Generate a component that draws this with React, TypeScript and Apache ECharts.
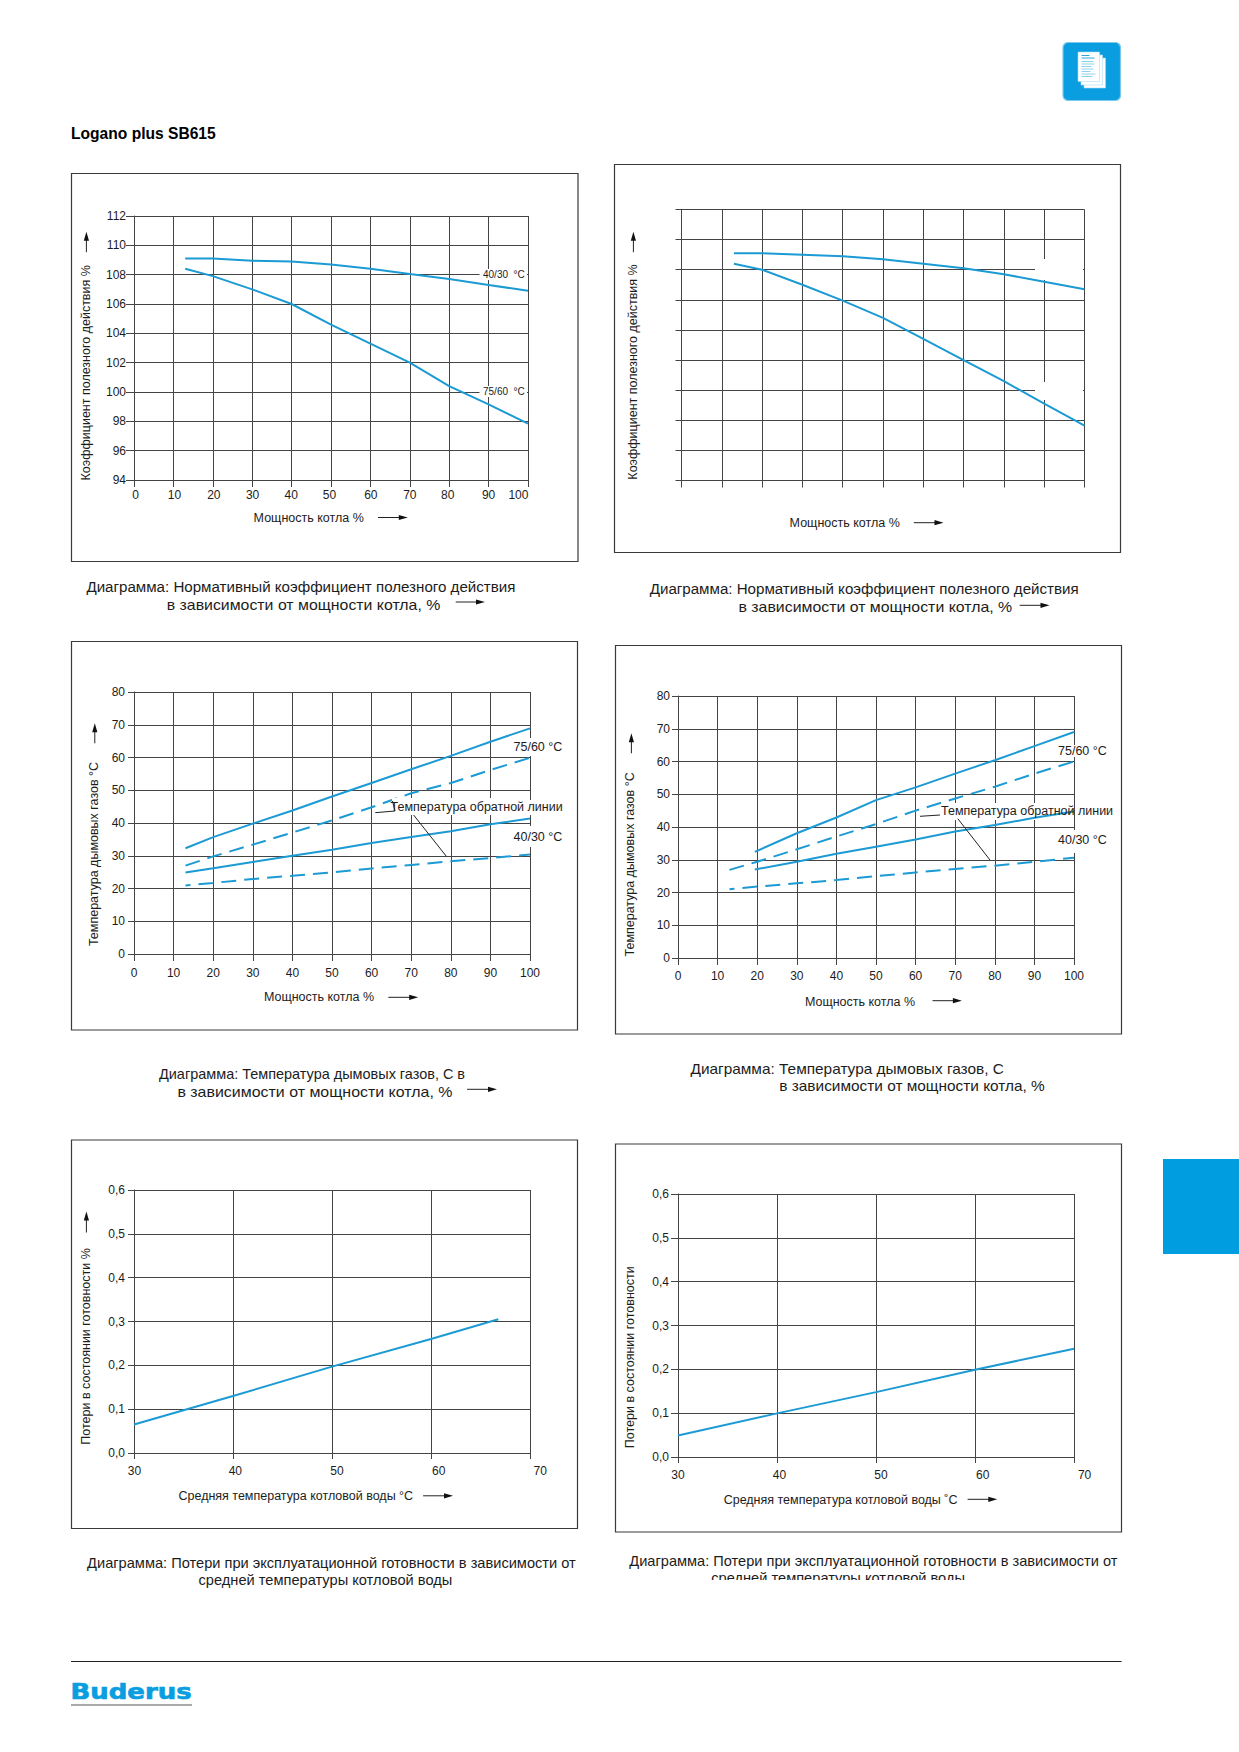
import React, { useEffect, useRef } from "react";
import * as echarts from "echarts";

const FONT = '"Liberation Sans", Arial, sans-serif';
const BLUE = "#1b9ad4";
const GRID = "#444444";
const TXT = "#1c1c1c";

// ---------- data ----------
const LOAD_TICKS_X = [13, 20, 30, 40, 50, 60, 70, 80, 90, 100];
const LOAD_TICKS_X_LATE = [19.4, 30, 40, 50, 60, 70, 80, 90, 100];

const EFF_A_4030 = [109.1, 109.1, 108.95, 108.9, 108.7, 108.4, 108.05, 107.7, 107.3, 106.9];
const EFF_A_7560 = [108.4, 107.9, 107.0, 106.0, 104.6, 103.3, 102.0, 100.4, 99.15, 97.85];
const EFF_B_4030 = [109.1, 109.1, 109.0, 108.9, 108.7, 108.4, 108.1, 107.7, 107.2, 106.7];
const EFF_B_7560 = [108.4, 108.0, 107.0, 105.95, 104.8, 103.4, 102.0, 100.6, 99.1, 97.65];

const GAS_A_7560 = [32.3, 35.7, 39.8, 43.8, 48.1, 52.2, 56.4, 60.5, 64.8, 68.9];
const GAS_A_7560_RET = [27.0, 29.8, 33.4, 37.1, 40.8, 44.8, 49.1, 52.2, 56.2, 59.9];
const GAS_A_4030 = [24.9, 26.2, 28.1, 30.0, 31.8, 33.9, 35.7, 37.5, 39.6, 41.4];
const GAS_A_4030_RET = [20.9, 21.7, 22.9, 23.9, 24.9, 26.1, 27.2, 28.3, 29.3, 30.4];

const GAS_B_7560 = [32.4, 38.1, 42.9, 48.2, 52.1, 56.3, 60.4, 64.7, 69.0];
const GAS_B_7560_RET = [26.9, 29.4, 33.2, 37.1, 40.9, 45.0, 48.7, 52.3, 56.3, 60.0];
const GAS_B_4030 = [27.0, 29.4, 31.8, 34.0, 36.2, 38.6, 40.6, 42.8, 44.7];
const GAS_B_4030_RET = [21.0, 21.8, 22.8, 23.8, 25.0, 26.1, 27.2, 28.2, 29.4, 30.6];

const WATER_TEMP_A = [30, 40, 50, 60, 66.8];
const LOSS_A = [0.065, 0.13, 0.197, 0.26, 0.305];
const WATER_TEMP_B = [30, 40, 50, 60, 70];
const LOSS_B = [0.049, 0.0995, 0.148, 0.199, 0.247];

const LOSS_TICK_LABELS = ["0,0", "0,1", "0,2", "0,3", "0,4", "0,5", "0,6"];

const zip = (xs: number[], ys: number[]) => ys.map((y, i) => [xs[i], y]);

// ---------- chart definitions ----------
type Chart = {
  l: number; r: number; t: number; b: number;
  xMin: number; xMax: number; xStep: number;
  yMin: number; yMax: number; yStep: number;
  xName: string; yName: string;
  xNameCx: number; xNameCy: number; yNameCx: number; yNameCy: number;
  xMargin: number; yMargin: number; xTick: number; yTick: number;
  hideLabels?: boolean;
  xOffsets?: Record<number, number>;
  yFmt?: (v: number, i: number) => string;
  lines: { data: number[][]; dashed?: boolean; dashOffset?: number }[];
};

const NAME_EFF = "Коэффициент полезного действия %";
const NAME_LOAD = "Мощность котла %";
const NAME_GAS = "Температура дымовых газов °C";

const charts: Chart[] = [
  {
    l: 134, r: 528, t: 216, b: 480, xMin: 0, xMax: 100, xStep: 10, yMin: 94, yMax: 112, yStep: 2,
    xName: NAME_LOAD, yName: NAME_EFF, xNameCx: 308.7, xNameCy: 517.5, yNameCx: 86.4, yNameCy: 372.8,
    xMargin: 9, yMargin: 8, xTick: 7, yTick: 8,
    xOffsets: { 0: 1.5, 10: 1, 20: 1, 30: 0.4, 40: -0.4, 50: -1.5, 60: 0.4, 70: 0, 80: -1.5, 90: 0, 100: -9.6 },
    lines: [{ data: zip(LOAD_TICKS_X, EFF_A_4030) }, { data: zip(LOAD_TICKS_X, EFF_A_7560) }],
  },
  {
    l: 681.5, r: 1084.5, t: 209.5, b: 480.5, xMin: 0, xMax: 100, xStep: 10, yMin: 94, yMax: 112, yStep: 2,
    xName: NAME_LOAD, yName: NAME_EFF, xNameCx: 844.7, xNameCy: 522.7, yNameCx: 633.4, yNameCy: 372,
    xMargin: 9, yMargin: 8, xTick: 7, yTick: 6, hideLabels: true,
    lines: [{ data: zip(LOAD_TICKS_X, EFF_B_4030) }, { data: zip(LOAD_TICKS_X, EFF_B_7560) }],
  },
  {
    l: 134, r: 530, t: 692, b: 954, xMin: 0, xMax: 100, xStep: 10, yMin: 0, yMax: 80, yStep: 10,
    xName: NAME_LOAD, yName: NAME_GAS, xNameCx: 319, xNameCy: 996, yNameCx: 94, yNameCy: 854,
    xMargin: 12.5, yMargin: 9, xTick: 7, yTick: 6,
    lines: [
      { data: zip(LOAD_TICKS_X, GAS_A_7560) },
      { data: zip(LOAD_TICKS_X, GAS_A_7560_RET), dashed: true },
      { data: zip(LOAD_TICKS_X, GAS_A_4030) },
      { data: zip(LOAD_TICKS_X, GAS_A_4030_RET), dashed: true, dashOffset: 10 },
    ],
  },
  {
    l: 678, r: 1074, t: 696, b: 958, xMin: 0, xMax: 100, xStep: 10, yMin: 0, yMax: 80, yStep: 10,
    xName: NAME_LOAD, yName: NAME_GAS, xNameCx: 860, xNameCy: 1001, yNameCx: 630.6, yNameCy: 864.4,
    xMargin: 12, yMargin: 8, xTick: 7, yTick: 6,
    lines: [
      { data: zip(LOAD_TICKS_X_LATE, GAS_B_7560) },
      { data: zip(LOAD_TICKS_X, GAS_B_7560_RET), dashed: true },
      { data: zip(LOAD_TICKS_X_LATE, GAS_B_4030) },
      { data: zip(LOAD_TICKS_X, GAS_B_4030_RET), dashed: true, dashOffset: 10 },
    ],
  },
  {
    l: 134, r: 530, t: 1190, b: 1453, xMin: 30, xMax: 70, xStep: 10, yMin: 0, yMax: 0.6, yStep: 0.1,
    xName: "Средняя температура котловой воды °C", yName: "Потери в состоянии готовности %",
    xNameCx: 295.8, xNameCy: 1495.4, yNameCx: 86.4, yNameCy: 1346.4,
    xMargin: 12, yMargin: 9, xTick: 6, yTick: 6,
    xOffsets: { 30: 0.4, 40: 2.3, 50: 5, 60: 7.7, 70: 10.3 },
    yFmt: (_v, i) => LOSS_TICK_LABELS[i],
    lines: [{ data: zip(WATER_TEMP_A, LOSS_A) }],
  },
  {
    l: 678, r: 1074, t: 1194, b: 1457, xMin: 30, xMax: 70, xStep: 10, yMin: 0, yMax: 0.6, yStep: 0.1,
    xName: "Средняя температура котловой воды ˚C", yName: "Потери в состоянии готовности",
    xNameCx: 840.6, xNameCy: 1499.3, yNameCx: 630.6, yNameCy: 1357.2,
    xMargin: 12, yMargin: 9, xTick: 6, yTick: 7,
    xOffsets: { 30: 0, 40: 2.4, 50: 4.9, 60: 7.7, 70: 10.6 },
    yFmt: (_v, i) => LOSS_TICK_LABELS[i],
    lines: [{ data: zip(WATER_TEMP_B, LOSS_B) }],
  },
];

// ---------- graphic helpers ----------
const text = (s: string, x: number, y: number, size: number, o: any = {}) => ({
  type: "text",
  z: o.z ?? 5,
  silent: true,
  style: {
    text: s, x, y, fill: o.fill ?? TXT, fontSize: size, fontFamily: o.family ?? FONT,
    fontWeight: o.weight ?? "normal", align: o.align ?? "left", verticalAlign: "middle",
    ...(o.stroke ? { stroke: o.stroke, lineWidth: o.lineWidth ?? 0.6 } : {}),
  },
});
const caption = (s: string, x: number, y: number, sx: number) => ({
  ...text(s, 0, 0, 14), x, y, scaleX: sx,
});
const mask = (x1: number, y1: number, x2: number, y2: number, z = 1) => ({
  type: "rect", z, silent: true,
  shape: { x: x1, y: y1, width: x2 - x1, height: y2 - y1 },
  style: { fill: "#ffffff" },
});
const frame = (x1: number, y1: number, x2: number, y2: number) => ({
  type: "rect", z: 1, silent: true,
  shape: { x: x1, y: y1, width: x2 - x1, height: y2 - y1 },
  style: { fill: "none", stroke: "#3a3a3a", lineWidth: 1.2 },
});
const seg = (x1: number, y1: number, x2: number, y2: number, w = 1, stroke = "#222") => ({
  type: "line", z: 5, silent: true,
  shape: { x1, y1, x2, y2 },
  style: { stroke, lineWidth: w },
});
const arrowRight = (x1: number, x2: number, y: number) => [
  seg(x1, y, x2 - 5, y),
  { type: "polygon", z: 5, silent: true, shape: { points: [[x2 - 9, y - 2.6], [x2, y], [x2 - 9, y + 2.6]] }, style: { fill: "#111" } },
];
const arrowUp = (x: number, y1: number, y2: number) => [
  seg(x, y2, x, y1 + 5),
  { type: "polygon", z: 5, silent: true, shape: { points: [[x - 2.6, y1 + 9], [x, y1], [x + 2.6, y1 + 9]] }, style: { fill: "#111" } },
];
const sheet = (x: number, y: number, w: number, h: number) => ({
  type: "rect", z: 5, silent: true, shape: { x, y, width: w, height: h },
  style: { fill: "#ffffff", stroke: "#a9dcf3", lineWidth: 0.6 },
});
const bar = (x: number, y: number, w: number, fill = "#8ed0ef") => ({
  type: "rect", z: 6, silent: true, shape: { x, y, width: w, height: 1 }, style: { fill },
});

const NAME_SIZE = 12.5;
const graphics: any[] = [
  // header
  text("Logano plus SB615", 71, 133.5, 15.6, { weight: "bold", fill: "#000" }),
  // icon
  {
    type: "rect", z: 4, silent: true,
    shape: { x: 1063, y: 42.5, width: 57.5, height: 58, r: 5 },
    style: { fill: "#0a9ee0", stroke: "#7cc9ee", lineWidth: 1.2 },
  },
  sheet(1084, 58, 21.5, 30), sheet(1081, 55, 21.5, 30), sheet(1078, 52, 21.5, 29.5),
  bar(1081.5, 55, 8, "#2ea6dc"), bar(1081.5, 57.5, 13, "#2ea6dc"),
  bar(1081.5, 61, 12), bar(1081.5, 63.5, 13), bar(1081.5, 66, 10), bar(1081.5, 68.5, 12),
  bar(1081.5, 71, 9), bar(1081.5, 73.5, 14), bar(1081.5, 76, 11),
  // side tab
  { type: "rect", z: 1, silent: true, shape: { x: 1163, y: 1159, width: 76, height: 95 }, style: { fill: "#009ee0" } },
  // frames
  frame(71.5, 173.5, 578, 561.5), frame(614.5, 164.5, 1120.5, 552.5),
  frame(71.5, 641.5, 577.5, 1030), frame(615.5, 645.5, 1121.5, 1034),
  frame(71.5, 1140, 577.5, 1528.5), frame(615.5, 1144, 1121.5, 1532),
  // chart 1 labels
  mask(479.5, 269, 527, 280), text("40/30  °C", 483, 274, 10),
  mask(479.5, 386, 527, 397), text("75/60  °C", 483, 391.8, 10),
  // chart 2 blanked label patches
  mask(1035, 259, 1083, 280), mask(1035, 382, 1083, 400),
  // chart 3 labels
  mask(527, 738, 533, 756), mask(527, 826, 533, 847),
  text("75/60 °C", 513.5, 746.7, NAME_SIZE), text("40/30 °C", 513.5, 836.7, NAME_SIZE),
  mask(392, 798, 527, 815, 3), mask(527, 800, 533, 815, 3),
  text("Температура обратной линии", 390.6, 806.7, NAME_SIZE),
  seg(375.3, 812.7, 395, 811), seg(395, 811, 392.5, 801), seg(413.6, 815, 446.1, 856),
  // chart 4 labels
  mask(1071, 745, 1077, 757), mask(1071, 830, 1077, 853),
  text("75/60 °C", 1058, 750.7, NAME_SIZE), text("40/30 °C", 1058, 840, NAME_SIZE),
  mask(938, 803, 1074, 820),
  text("Температура обратной линии", 941, 811.3, NAME_SIZE),
  seg(920, 816.3, 940, 815), seg(957.8, 818.7, 990, 860),
  // axis arrows
  ...arrowUp(86.4, 231.7, 252.2), ...arrowRight(378, 407.8, 517.5),
  ...arrowUp(633.4, 231.7, 252.2), ...arrowRight(913.8, 943.5, 522.7),
  ...arrowUp(94.8, 723.3, 743.3), ...arrowRight(388.3, 418.2, 997.3),
  ...arrowUp(631.4, 733.3, 753.3), ...arrowRight(932.5, 961.9, 1000.7),
  ...arrowUp(86.4, 1211.4, 1232.5), ...arrowRight(423.1, 453, 1495.8),
  ...arrowRight(967.6, 997.3, 1499.3),
  // captions
  caption("Диаграмма: Нормативный коэффициент полезного действия", 86.4, 586.7, 1.08),
  caption("в зависимости от мощности котла, %", 166.7, 604.5, 1.134),
  ...arrowRight(455.7, 485, 602),
  caption("Диаграмма: Нормативный коэффициент полезного действия", 649.7, 589.5, 1.08),
  caption("в зависимости от мощности котла, %", 738.5, 607.3, 1.134),
  ...arrowRight(1019.7, 1049.5, 605.3),
  caption("Диаграмма: Температура дымовых газов, С в", 159, 1074, 1.034),
  caption("в зависимости от мощности котла, %", 177.4, 1091.7, 1.139),
  ...arrowRight(467.1, 497, 1089.3),
  caption("Диаграмма: Температура дымовых газов, С", 690.5, 1069, 1.1),
  caption("в зависимости от мощности котла, %", 779.3, 1086.7, 1.1),
  caption("Диаграмма: Потери при эксплуатационной готовности в зависимости от", 87.1, 1562.9, 1.045),
  caption("средней температуры котловой воды", 198.5, 1580, 1.046),
  caption("Диаграмма: Потери при эксплуатационной готовности в зависимости от", 629.3, 1560.9, 1.043),
  caption("средней температуры котловой воды", 711.2, 1578.5, 1.046),
  mask(700, 1580, 980, 1592, 7),
  // footer
  seg(71, 1661.5, 1121.5, 1661.5, 1, "#222"),
  {
    ...text("Buderus", 0, 0, 22, { weight: "bold", fill: "#0a9ee0", family: '"DejaVu Sans", sans-serif', stroke: "#0a9ee0", lineWidth: 0.7 }),
    x: 70.5, y: 1691.5, scaleX: 1.18,
  },
  seg(71, 1705, 192, 1705, 1.2, "#555"),
];

// ---------- option ----------
const pad = (shift: number) => (shift >= 0 ? [0, 0, 0, 2 * shift] : [0, -2 * shift, 0, 0]);

function buildOption() {
  const grid: any[] = [], xAxis: any[] = [], yAxis: any[] = [], series: any[] = [];
  const axisLine = { show: true, lineStyle: { color: GRID, width: 1 } };
  const splitLine = { show: true, lineStyle: { color: GRID, width: 1 } };
  const labelBase = { color: TXT, fontSize: 12, fontFamily: FONT };
  const nameBase = { color: TXT, fontSize: NAME_SIZE, fontFamily: FONT };
  charts.forEach((c, i) => {
    grid.push({ left: c.l, top: c.t, width: c.r - c.l, height: c.b - c.t, containLabel: false });
    const off = c.xOffsets;
    const rich: any = {};
    if (off) Object.keys(off).forEach((k) => {
      const o = off[+k];
      rich["v" + k] = { ...labelBase, padding: pad(o) };
    });
    xAxis.push({
      gridIndex: i, type: "value", min: c.xMin, max: c.xMax, interval: c.xStep,
      name: c.xName, nameLocation: "middle", nameGap: c.xNameCy - c.b - 6,
      nameTextStyle: { ...nameBase, padding: pad(c.xNameCx - (c.l + c.r) / 2) },
      axisLine, splitLine,
      axisTick: { show: true, length: c.xTick, lineStyle: { color: GRID, width: 1 } },
      axisLabel: {
        show: !c.hideLabels, ...labelBase, margin: c.xMargin, hideOverlap: false,
        formatter: off ? (v: number) => `{v${v}|${v}}` : (v: number) => String(v),
        rich,
      },
    });
    const yMid = (c.t + c.b) / 2;
    yAxis.push({
      gridIndex: i, type: "value", min: c.yMin, max: c.yMax, interval: c.yStep,
      name: c.yName, nameLocation: "middle", nameRotate: 90, nameGap: c.l - c.yNameCx - 6,
      nameTextStyle: { ...nameBase, padding: pad(yMid - c.yNameCy) },
      axisLine, splitLine,
      axisTick: { show: true, length: c.yTick, lineStyle: { color: GRID, width: 1 } },
      axisLabel: {
        show: !c.hideLabels, ...labelBase, margin: c.yMargin,
        formatter: c.yFmt ?? ((v: number) => String(v)),
      },
    });
    c.lines.forEach((ln) => {
      series.push({
        type: "line", xAxisIndex: i, yAxisIndex: i, data: ln.data, showSymbol: false, symbol: "none",
        smooth: false, z: 2, clip: false,
        lineStyle: { color: BLUE, width: 2, type: ln.dashed ? [15, 8] : "solid", dashOffset: ln.dashOffset ?? 0 },
      });
    });
  });
  return { animation: false, backgroundColor: "#ffffff", grid, xAxis, yAxis, series, graphic: { elements: graphics } };
}

export default function App() {
  const ref = useRef<HTMLDivElement>(null);
  useEffect(() => {
    document.body.style.margin = "0";
    const chart = echarts.init(ref.current!, undefined, { renderer: "svg" });
    chart.setOption(buildOption() as any);
    return () => chart.dispose();
  }, []);
  return <div ref={ref} style={{ width: 1239, height: 1752 }} />;
}
